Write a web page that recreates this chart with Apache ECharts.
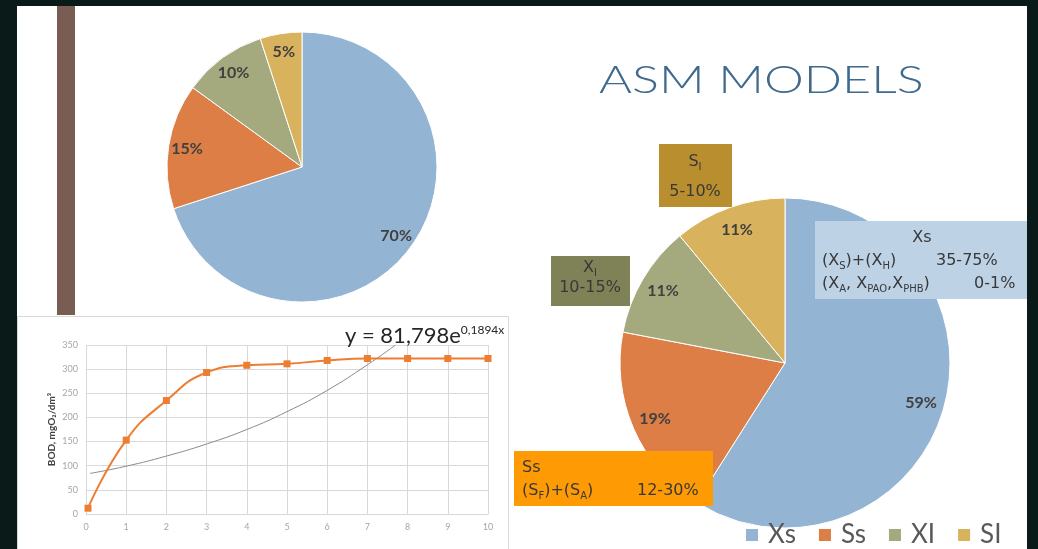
<!DOCTYPE html>
<html>
<head>
<meta charset="utf-8">
<script src="https://cdn.jsdelivr.net/npm/echarts@6/dist/echarts.min.js"></script>
<style>
  html, body { margin: 0; padding: 0; background: #0a1a18; }
  #chart { width: 1038px; height: 549px; }
</style>
</head>
<body>
<div id="chart"></div>
<script>
// 饼图数据
const pieNames = ['Xs', 'Ss', 'XI', 'SI'];
const pieColors = ['#94b4d3', '#dc7e45', '#a4aa7e', '#d9b25d'];
const leftPieValues = [70, 15, 10, 5];
const rightPieValues = [59, 19, 11, 11];

// BOD 曲线数据
const bodX = [0.05, 1, 2, 3, 4, 5, 6, 7, 8, 9, 10];
const bodY = [12, 153, 235, 293, 308, 311, 318, 322, 322, 322, 322];
// 趋势线
const trendX = [0.1, 1, 2, 3, 4, 5, 6, 7, 7.7];
const trendY = [84, 99, 120, 145, 175, 212, 256, 309, 350];

// 刻度
const xTicks = [0, 1, 2, 3, 4, 5, 6, 7, 8, 9, 10];
const yTicks = [0, 50, 100, 150, 200, 250, 300, 350];

const FONT = 'Lato, "Open Sans", sans-serif';
const BOXFONT = '"DejaVu Sans", sans-serif';
const TXT = '#383838';

function pieData(values) {
  return pieNames.map((n, i) => ({ name: n, value: values[i], itemStyle: { color: pieColors[i] } }));
}

// 透明环形系列只用来放标签（标签位于约 0.84 半径处）
function labelRing(center, r, values) {
  return {
    type: 'pie',
    center: center,
    radius: [r * 0.68, r],
    startAngle: 90,
    silent: true,
    avoidLabelOverlap: false,
    data: pieNames.map((n, i) => ({ name: n, value: values[i] })),
    itemStyle: { color: 'rgba(0,0,0,0)' },
    label: {
      show: true,
      position: 'inside',
      formatter: '{c}%',
      fontFamily: FONT,
      fontWeight: 'bold',
      fontSize: 16,
      color: '#404040'
    },
    labelLine: { show: false },
    emphasis: { disabled: true }
  };
}

function mainPie(center, r, values) {
  return {
    type: 'pie',
    center: center,
    radius: [0, r],
    startAngle: 90,
    silent: true,
    data: pieData(values),
    itemStyle: { borderColor: '#ffffff', borderWidth: 1 },
    label: { show: false },
    labelLine: { show: false },
    emphasis: { disabled: true }
  };
}

// 下标文字样式
function richStyle(size) {
  return {
    n: { fontFamily: BOXFONT, fontSize: size, lineHeight: 20, fill: TXT },
    s: { fontFamily: BOXFONT, fontSize: Math.round(size * 0.62), lineHeight: 10, verticalAlign: 'bottom', fill: TXT }
  };
}

function boxText(x, y, text, size, align) {
  return {
    type: 'text',
    x: x,
    y: y,
    z: 20,
    style: {
      text: text,
      rich: richStyle(size),
      align: align || 'left',
      verticalAlign: 'middle'
    }
  };
}

function rect(x, y, w, h, fill, z, stroke) {
  return {
    type: 'rect',
    z: z,
    silent: true,
    shape: { x: x, y: y, width: w, height: h },
    style: stroke ? { fill: fill, stroke: stroke, lineWidth: 1 } : { fill: fill }
  };
}

const chart = echarts.init(document.getElementById('chart'));

const option = {
  animation: false,
  graphic: [
    rect(17, 6, 1010, 543, '#ffffff', -20),
    rect(57, 6, 18, 309, '#7a5d52', -19),
    rect(17.5, 316.5, 491, 240, '#ffffff', -18, '#d9d9d9'),
    {
      type: 'text', x: 599, y: 81, z: 20, scaleX: 1.36,
      style: {
        text: 'ASM MODELS', fill: '#3f6a8e',
        font: '300 37px Lato, "Open Sans", sans-serif',
        align: 'left', verticalAlign: 'middle'
      }
    },
    // 公式
    {
      type: 'text', x: 345, y: 336, z: 20,
      style: {
        text: '{m|y = 81,798e}{p|0,1894x}',
        align: 'left', verticalAlign: 'middle',
        rich: {
          m: { fontFamily: FONT, fontSize: 22, lineHeight: 24, fill: '#262626' },
          p: { fontFamily: FONT, fontSize: 12, lineHeight: 12, verticalAlign: 'top', fill: '#262626' }
        }
      }
    },
    // S_I 框
    rect(659, 144, 73, 63, '#b98e2f', 10),
    boxText(695, 162, '{n|S}{s|I}', 16, 'center'),
    boxText(695, 192, '{n|5-10%}', 16, 'center'),
    // X_I 框
    rect(551, 256, 79, 50, '#7f8156', 10),
    boxText(590, 268, '{n|X}{s|I}', 16, 'center'),
    boxText(590, 288, '{n|10-15%}', 16, 'center'),
    // Xs 框
    rect(815, 221, 212, 78, '#bed2e5', 10),
    boxText(922, 238, '{n|Xs}', 16, 'center'),
    boxText(822, 261, '{n|(X}{s|S}{n|)+(X}{s|H}{n|)}', 16),
    boxText(936, 261, '{n|35-75%}', 16),
    boxText(822, 284, '{n|(X}{s|A}{n|, X}{s|PAO}{n|,X}{s|PHB}{n|)}', 16),
    boxText(974, 284, '{n|0-1%}', 16),
    // Ss 框
    rect(514, 451, 199, 55, '#fd9a04', 10),
    boxText(522, 468, '{n|Ss}', 16),
    boxText(522, 491, '{n|(S}{s|F}{n|)+(S}{s|A}{n|)}', 16),
    boxText(637, 491, '{n|12-30%}', 16)
  ],
  legend: {
    data: pieNames,
    left: 744,
    top: 521,
    padding: 0,
    icon: 'rect',
    itemWidth: 14,
    itemHeight: 14,
    itemGap: 21,
    selectedMode: false,
    textStyle: { fontFamily: FONT, fontSize: 26, lineHeight: 28, color: '#595959', padding: [0, 0, 0, 4] }
  },
  grid: { left: 86, right: 550, top: 345, bottom: 35, containLabel: false },
  xAxis: {
    type: 'value',
    min: xTicks[0],
    max: xTicks[xTicks.length - 1],
    interval: 1,
    axisLine: { lineStyle: { color: '#d9d9d9' } },
    axisTick: { show: false },
    splitLine: { show: true, lineStyle: { color: '#d9d9d9' } },
    axisLabel: { color: '#a6a6a6', fontSize: 9, margin: 9, fontFamily: FONT }
  },
  yAxis: {
    type: 'value',
    min: yTicks[0],
    max: yTicks[yTicks.length - 1],
    interval: 50,
    name: 'BOD, mgO₂/dm³',
    nameLocation: 'middle',
    nameRotate: 90,
    nameGap: 29,
    nameTextStyle: { fontFamily: FONT, fontWeight: 'bold', fontSize: 10, color: '#404040' },
    axisLine: { show: false },
    axisTick: { show: false },
    splitLine: { lineStyle: { color: '#d9d9d9' } },
    axisLabel: { color: '#a6a6a6', fontSize: 9, margin: 8, fontFamily: FONT }
  },
  series: [
    mainPie([302, 167], 135, leftPieValues),
    mainPie([785, 363], 165, rightPieValues),
    labelRing([302, 167], 135, leftPieValues),
    labelRing([785, 363], 165, rightPieValues),
    {
      type: 'line',
      data: bodX.map((x, i) => [x, bodY[i]]),
      smooth: true,
      symbol: 'rect',
      symbolSize: 7,
      lineStyle: { color: '#ed7d31', width: 2 },
      itemStyle: { color: '#ed7d31' },
      silent: true,
      z: 3
    },
    {
      type: 'line',
      data: trendX.map((x, i) => [x, trendY[i]]),
      smooth: true,
      showSymbol: false,
      lineStyle: { color: '#8a8a8a', width: 1 },
      silent: true,
      z: 2
    }
  ]
};

chart.setOption(option);
</script>
</body>
</html>
